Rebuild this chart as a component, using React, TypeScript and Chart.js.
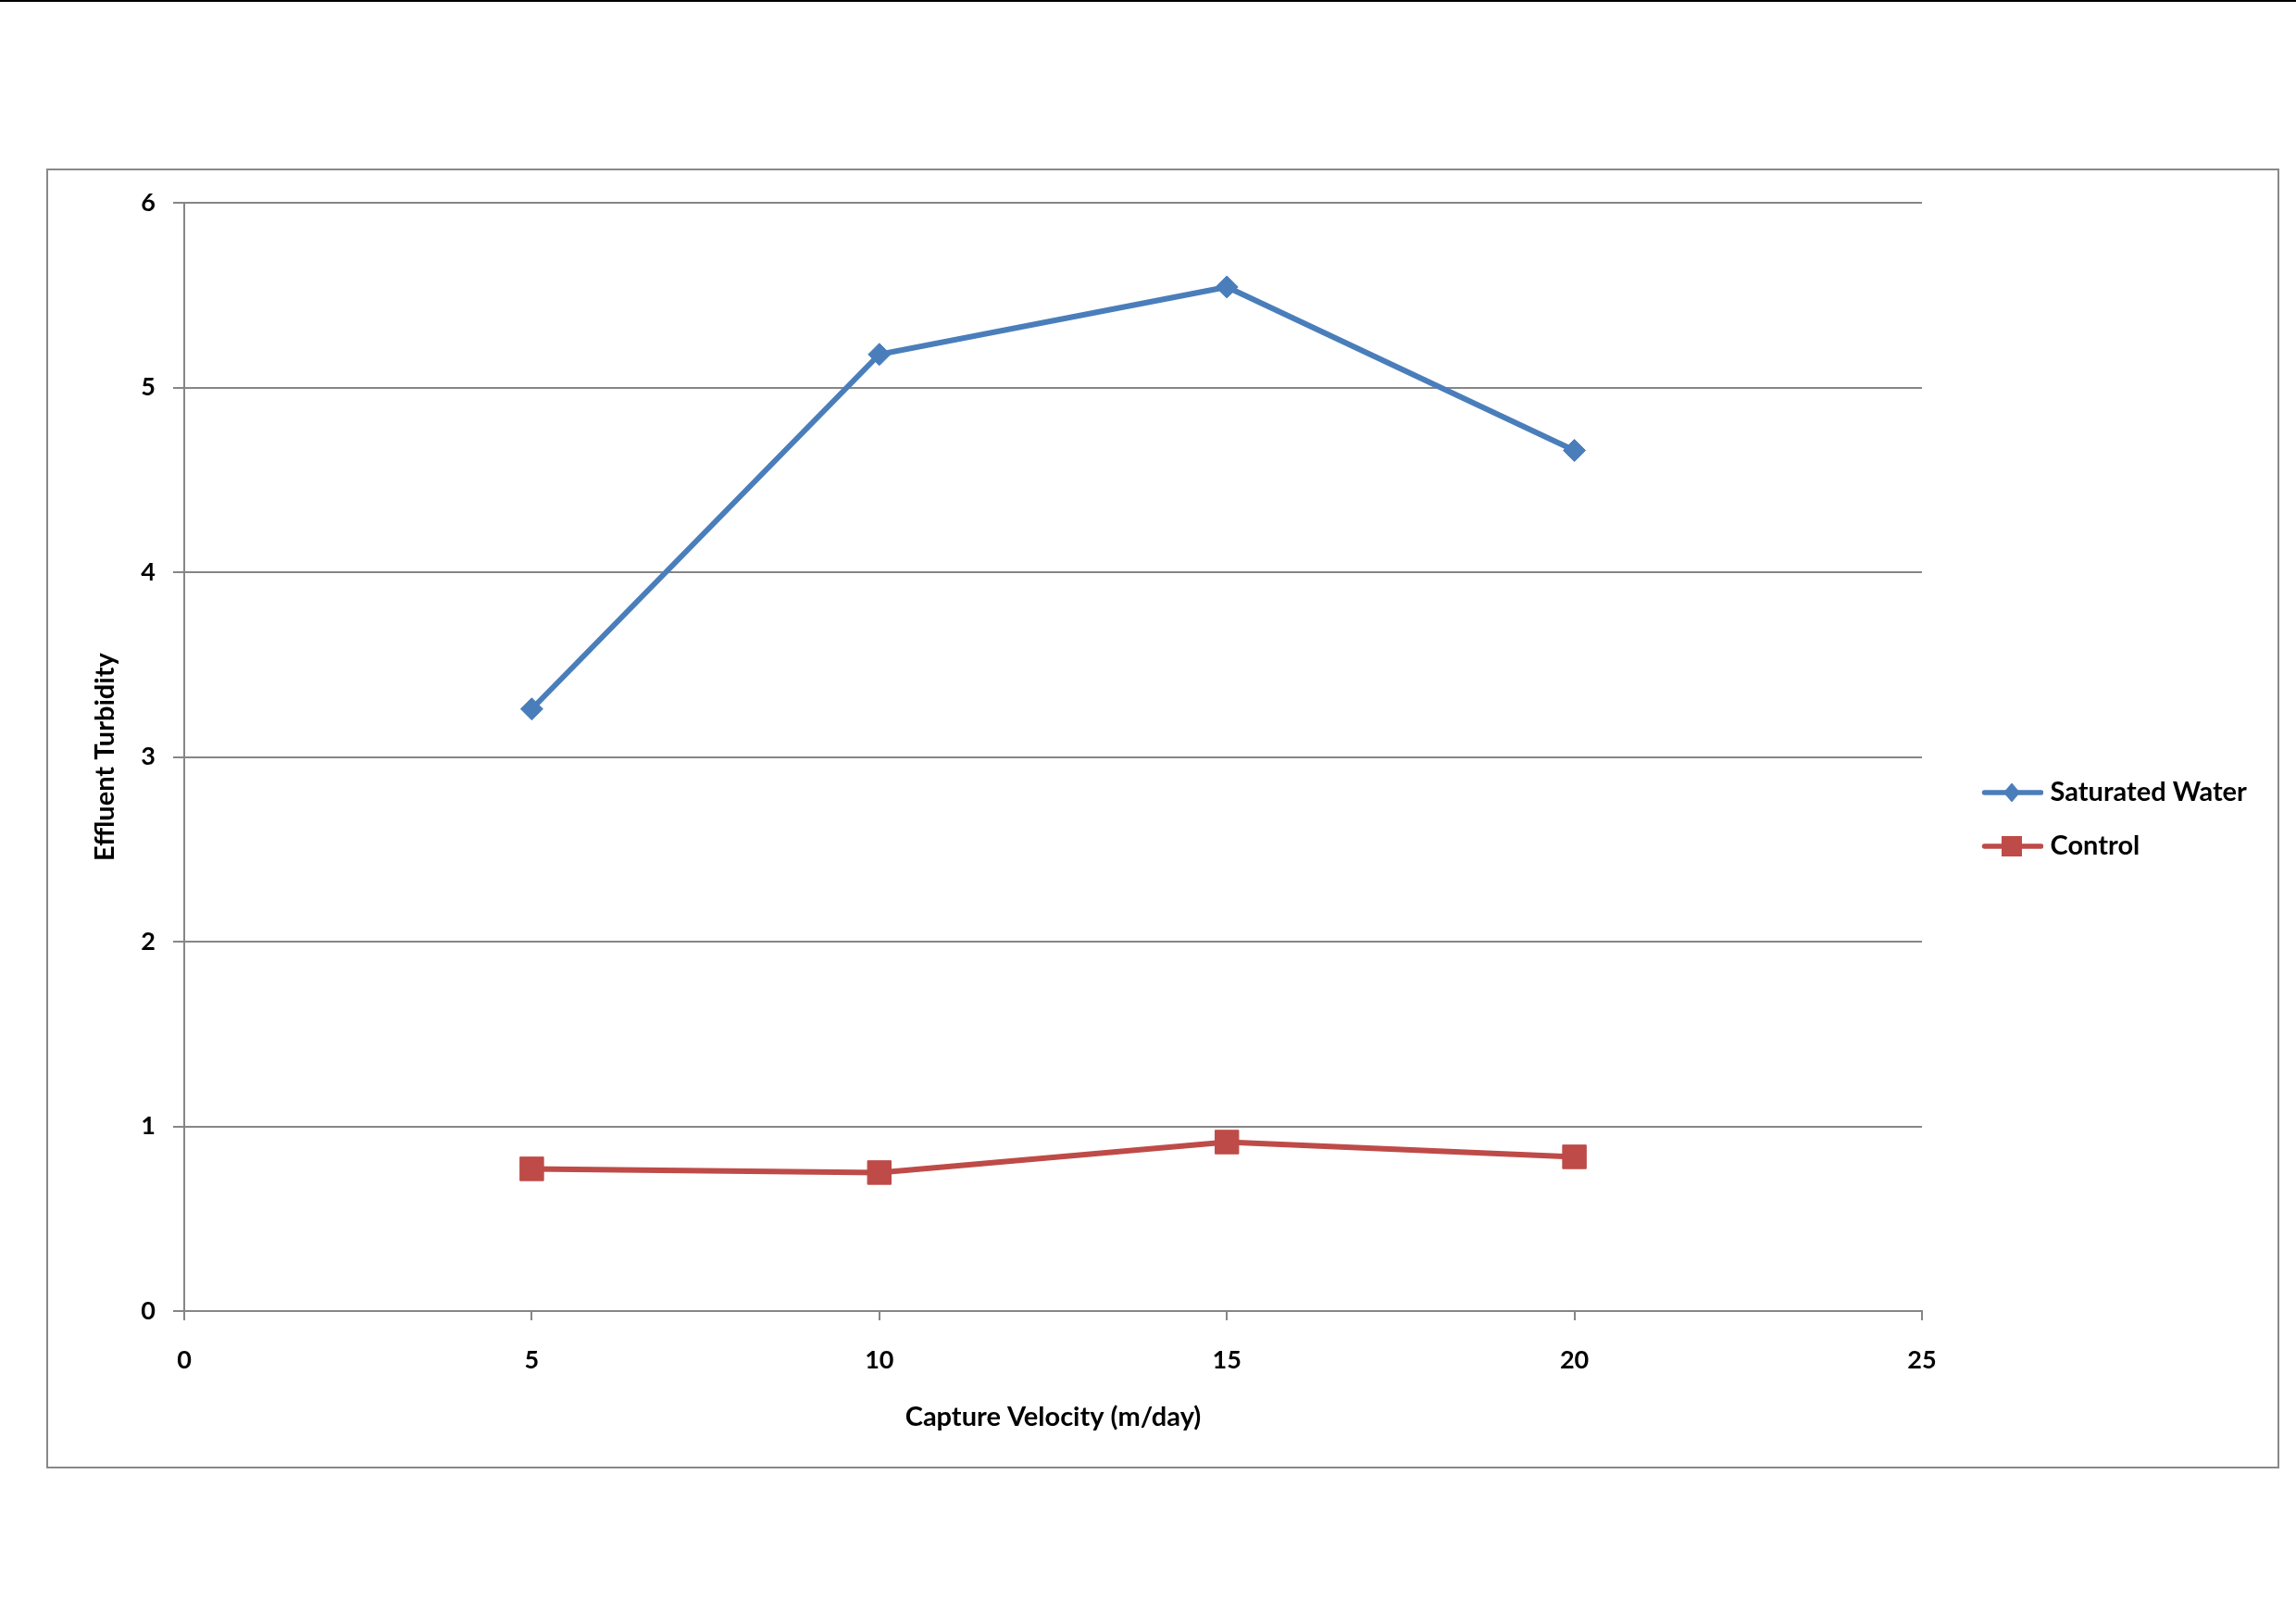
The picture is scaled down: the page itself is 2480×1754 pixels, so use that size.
import React, { useEffect, useRef } from 'react';
import Chart from 'chart.js/auto';

// values
const velocity = [5, 10, 15, 20];
const saturatedWater = [3.26, 5.18, 5.545, 4.66];
const control = [0.77, 0.75, 0.915, 0.835];
const seriesNames = ['Saturated Water', 'Control'];
const xTitle = 'Capture Velocity (m/day)';
const yTitle = 'Effluent Turbidity';

const BLUE = '#4A7EBB';
const RED = '#BE4B48';
const GRID = '#868686';
const FONT = 'Lato';
const LEGEND_SIZE = 29;
const LEGEND_PAD = 29;
const SWATCH_BOX = 95;

// line + marker swatch for the legend, like Excel draws it
function legendSwatch(color: string, marker: 'diamond' | 'square'): HTMLCanvasElement {
  const c = document.createElement('canvas');
  c.width = 109;
  c.height = 26;
  const ctx = c.getContext('2d')!;
  ctx.strokeStyle = color;
  ctx.lineWidth = 5.5;
  ctx.lineCap = 'round';
  ctx.beginPath();
  ctx.moveTo(45.5, 13);
  ctx.lineTo(106.5, 13);
  ctx.stroke();
  ctx.fillStyle = color;
  const cx = 75;
  if (marker === 'diamond') {
    ctx.beginPath();
    ctx.moveTo(cx - 9, 13);
    ctx.lineTo(cx, 2.5);
    ctx.lineTo(cx + 9, 13);
    ctx.lineTo(cx, 23.5);
    ctx.closePath();
    ctx.fill();
  } else {
    ctx.fillRect(cx - 11, 2, 22, 22);
  }
  return c;
}

const App: React.FC = () => {
  const canvasRef = useRef<HTMLCanvasElement>(null);
  const chartRef = useRef<Chart | null>(null);

  useEffect(() => {
    const ctx = canvasRef.current?.getContext('2d');
    if (!ctx) return;
    if (chartRef.current) chartRef.current.destroy();

    const swatches = [legendSwatch(BLUE, 'diamond'), legendSwatch(RED, 'square')];

    // size the right padding so the plot area ends where the reference does
    ctx.font = `bold ${LEGEND_SIZE}px ${FONT}`;
    const textW = Math.max(...seriesNames.map((n) => ctx.measureText(n).width));
    const legendW = LEGEND_PAD + SWATCH_BOX + LEGEND_SIZE / 2 + textW + 10;
    const padRight = Math.max(0, 384 - legendW);

    const defaultLabels = Chart.defaults.plugins.legend.labels.generateLabels;

    chartRef.current = new Chart(ctx, {
      type: 'line',
      data: {
        datasets: [
          {
            label: seriesNames[0],
            data: velocity.map((x, i) => ({ x, y: saturatedWater[i] })),
            borderColor: BLUE,
            backgroundColor: BLUE,
            borderWidth: 6,
            pointStyle: 'rectRot',
            pointRadius: 12,
            pointBorderWidth: 1,
            tension: 0,
          },
          {
            label: seriesNames[1],
            data: velocity.map((x, i) => ({ x, y: control[i] })),
            borderColor: RED,
            backgroundColor: RED,
            borderWidth: 6,
            pointStyle: 'rect',
            pointRadius: 18,
            pointBorderWidth: 1,
            tension: 0,
          },
        ],
      },
      options: {
        responsive: false,
        devicePixelRatio: 1,
        animation: false,
        layout: { padding: { top: 32, left: 0, bottom: 30, right: padRight } },
        scales: {
          x: {
            type: 'linear',
            min: 0,
            max: 25,
            ticks: { stepSize: 5, color: '#000', padding: 27, font: { family: FONT, size: 27, weight: 'bold' } },
            grid: { drawOnChartArea: false, drawTicks: true, tickLength: 10, color: GRID, lineWidth: 2 },
            border: { display: true, color: GRID, width: 2 },
            title: {
              display: true,
              text: xTitle,
              color: '#000',
              font: { family: FONT, size: 29, weight: 'bold' },
              padding: { top: 0, bottom: 5.6 },
            },
            afterFit: (scale) => {
              scale.height = 138;
            },
          },
          y: {
            min: 0,
            max: 6,
            ticks: { stepSize: 1, color: '#000', padding: 19, font: { family: FONT, size: 27, weight: 'bold' } },
            grid: { color: GRID, lineWidth: 2, tickLength: 12 },
            border: { display: true, color: GRID, width: 2 },
            title: {
              display: true,
              text: yTitle,
              color: '#000',
              font: { family: FONT, size: 29, weight: 'bold' },
              padding: { top: 44.6, bottom: 0 },
            },
            afterFit: (scale) => {
              scale.width = 147;
            },
          },
        },
        plugins: {
          tooltip: { enabled: false },
          legend: {
            position: 'right',
            labels: {
              color: '#000',
              font: { family: FONT, size: LEGEND_SIZE, weight: 'bold' },
              usePointStyle: true,
              pointStyleWidth: SWATCH_BOX,
              padding: LEGEND_PAD,
              generateLabels: (chart) =>
                defaultLabels(chart).map((item, i) => ({ ...item, pointStyle: swatches[i] })),
            },
          },
        },
      },
    });

    return () => {
      if (chartRef.current) {
        chartRef.current.destroy();
        chartRef.current = null;
      }
    };
  }, []);

  return (
    <div style={{ position: 'absolute', left: 0, top: 0, width: 2480, height: 1754, background: '#fff', overflow: 'hidden' }}>
      <div style={{ position: 'absolute', left: 0, top: 0, width: 2480, height: 2, background: '#000' }} />
      <div
        style={{
          position: 'absolute',
          left: 50,
          top: 182,
          width: 2408,
          height: 1400,
          border: '2px solid #898989',
        }}
      >
        <canvas ref={canvasRef} width={2408} height={1400} style={{ display: 'block' }} />
      </div>
    </div>
  );
};

export default App;
